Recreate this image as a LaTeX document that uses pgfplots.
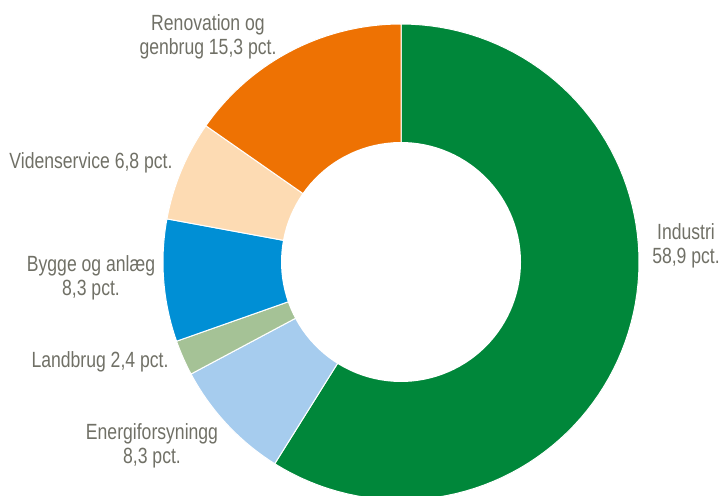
\documentclass[border=0pt]{standalone}
\usepackage{pgfplots}
\pgfplotsset{compat=1.18}
\usepackage{fontspec}
\setmainfont{Liberation Sans}[FakeStretch=0.8]
\definecolor{cInd}{HTML}{00873A}
\definecolor{cEne}{HTML}{A6CCEE}
\definecolor{cLan}{HTML}{A5C296}
\definecolor{cByg}{HTML}{008FD5}
\definecolor{cVid}{HTML}{FDDBB3}
\definecolor{cRen}{HTML}{EE7203}
\definecolor{txt}{RGB}{112,112,102}
% shares in percent, clockwise from 12 o'clock
\def\vInd{58.9}
\def\vEne{8.3}
\def\vLan{2.4}
\def\vByg{8.3}
\def\vVid{6.8}
\def\vRen{15.3}
\pgfmathsetmacro\aA{90}
\pgfmathsetmacro\aB{\aA-3.6*\vInd}
\pgfmathsetmacro\aC{\aB-3.6*\vEne}
\pgfmathsetmacro\aD{\aC-3.6*\vLan}
\pgfmathsetmacro\aE{\aD-3.6*\vByg}
\pgfmathsetmacro\aF{\aE-3.6*\vVid}
\pgfmathsetmacro\aG{\aF-3.6*\vRen}
\def\cx{401}
\def\cy{233}
\def\R{238}
\def\r{120}
\begin{document}
\begin{tikzpicture}
\begin{axis}[
  x=1pt, y=1pt, scale only axis,
  xmin=0, xmax=719, ymin=0, ymax=495,
  hide axis, clip mode=individual,
  every axis plot/.append style={draw=white, line width=1pt, samples=90, variable=\t},
]
\addplot[fill=cInd, domain=\aB:\aA] ({\cx+\R*cos(t)},{\cy+\R*sin(t)}) -- (axis cs:\cx,\cy) -- cycle;
\addplot[fill=cEne, domain=\aC:\aB] ({\cx+\R*cos(t)},{\cy+\R*sin(t)}) -- (axis cs:\cx,\cy) -- cycle;
\addplot[fill=cLan, domain=\aD:\aC] ({\cx+\R*cos(t)},{\cy+\R*sin(t)}) -- (axis cs:\cx,\cy) -- cycle;
\addplot[fill=cByg, domain=\aE:\aD] ({\cx+\R*cos(t)},{\cy+\R*sin(t)}) -- (axis cs:\cx,\cy) -- cycle;
\addplot[fill=cVid, domain=\aF:\aE] ({\cx+\R*cos(t)},{\cy+\R*sin(t)}) -- (axis cs:\cx,\cy) -- cycle;
\addplot[fill=cRen, domain=\aG:\aF] ({\cx+\R*cos(t)},{\cy+\R*sin(t)}) -- (axis cs:\cx,\cy) -- cycle;
\addplot[fill=white, draw=none, domain=0:360, samples=120] ({\cx+\r*cos(t)},{\cy+\r*sin(t)}) -- cycle;
\begin{scope}[every node/.style={text=txt, align=center, font=\fontsize{22}{24}\selectfont}]
\node at (axis cs:208,458) {Renovation og\\genbrug 15,3 pct.};
\node at (axis cs:91,332) {Videnservice 6,8 pct.};
\node at (axis cs:91,217) {Bygge og anlæg\\8,3 pct.};
\node at (axis cs:100,133) {Landbrug 2,4 pct.};
\node at (axis cs:152,49) {Energiforsyningg\\8,3 pct.};
\node at (axis cs:686,249.5) {Industri\\58,9 pct.};
\end{scope}
\end{axis}
\pgfresetboundingbox
\useasboundingbox (0,0) rectangle (719pt,495pt);
\end{tikzpicture}
\end{document}
